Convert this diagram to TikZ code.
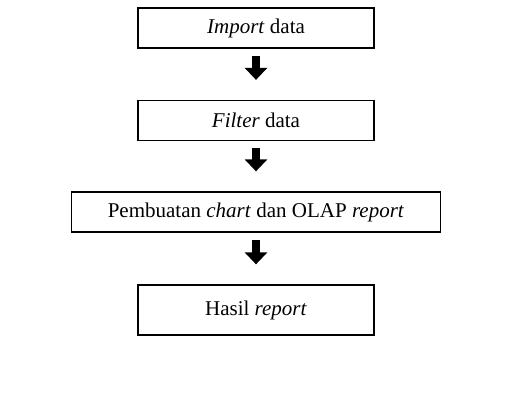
\documentclass[tikz,border=0pt]{standalone}
\usepackage{fontspec}
\setmainfont{Liberation Serif}
\usetikzlibrary{arrows.meta}
\tikzset{
stepbox/.style = {draw, line width = 1.3pt, minimum height = 40pt, inner sep = 0pt, font = \fontsize{21}{25}\selectfont},
flow/.style = {line width = 8pt, -{Triangle[width = 22pt, length = 12pt]}, shorten <= 7pt, shorten >= 20pt}
}
\begin{document}
\begin{tikzpicture}[x=1pt,y=-1pt]
%
\def\xmid{256}
\def\wsmall{236pt}
\def\wbig{369pt}
%
\useasboundingbox (0,0) rectangle (516,392);
%
\node[stepbox, minimum width = \wsmall] (import) at (\xmid,28) {\textit{Import} data};
\node[stepbox, minimum width = \wsmall] (filter) at (\xmid,120.5) {\textit{Filter} data};
\node[stepbox, minimum width = \wbig] (chart) at (\xmid,212) {Pembuatan \textit{chart} dan OLAP \textit{report}};
\node[stepbox, minimum width = \wsmall, minimum height = 50pt] (hasil) at (\xmid,310) {Hasil \textit{report}};
%
\draw[flow] (import) -- (filter);
\draw[flow] (filter) -- (chart);
\draw[flow] (chart) -- (hasil);
%
\end{tikzpicture}
\end{document}
